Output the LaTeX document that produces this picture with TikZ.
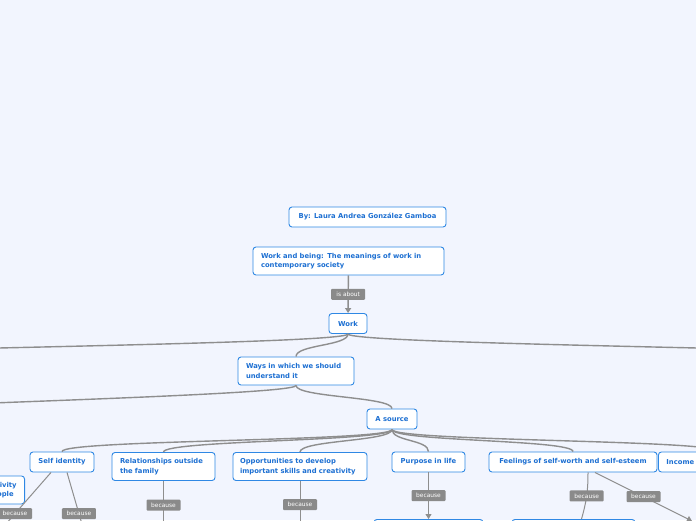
\documentclass[tikz,border=0pt]{standalone}
\usepackage{fontspec}
\usepackage{tikz}
\usetikzlibrary{arrows.meta}
\newfontfamily\mapfont{DejaVu Sans}

\definecolor{bgcolor}{HTML}{F2F5FE}
\definecolor{boxblue}{HTML}{2F88E4}
\definecolor{textblue}{HTML}{1C6FD2}
\definecolor{linegray}{HTML}{8E8E8E}
\definecolor{taggray}{HTML}{8A8A8A}

\begin{document}
\begin{tikzpicture}[
				x=1pt, y=-1pt,
				topic/.style={
					draw=boxblue,
					fill=white,
					rounded corners=3pt,
					line width=0.9pt,
					text=textblue,
					font=\mapfont\bfseries\fontsize{6.8}{9.4}\selectfont,
					inner xsep=8pt,
					inner ysep=0pt,
					minimum height=20pt
				},
				twoline/.style={
					topic,
					align=left,
					minimum height=28pt
				},
				linktag/.style={
					fill=taggray,
					text=white,
					rounded corners=1pt,
					font=\mapfont\fontsize{5.9}{7}\selectfont,
					inner xsep=3pt,
					inner ysep=0pt,
					minimum height=11pt,
					minimum width=34pt
				},
				branch/.style={draw=linegray, line width=1.4pt},
				>={Triangle[length=5pt,width=6pt]}
				]
				
				\useasboundingbox (0,0) rectangle (696,520);
				\fill[bgcolor] (0,0) rectangle (696,520);
				\clip (0,0) rectangle (696,520);
				
				% title and root
				\node[topic, minimum width=157pt] (author) at (367.5,217)
				{By: Laura Andrea González Gamboa};
				
				\node[twoline, text width=175pt] (being) at (348.5,261)
				{Work and being: The meanings of work in\\contemporary society};
				
				\node[topic, minimum width=38pt] (work) at (348,323.5) {Work};
				
				\node[twoline, text width=100pt] (ways) at (296,371)
				{Ways in which we should\\understand it};
				
				\node[topic, minimum width=50pt] (source) at (392,419) {A source};
				
				% second level
				\node[topic, minimum width=64pt] (selfid) at (62,462) {Self identity};
				
				\node[twoline, text width=87pt] (family) at (163.5,466.5)
				{Relationships outside\\the family};
				
				\node[twoline, text width=120pt, inner xsep=7pt] (skills) at (300,466.5)
				{Opportunities to develop\\important skills and creativity};
				
				\node[topic, minimum width=73pt] (purpose) at (428.5,462) {Purpose in life};
				
				\node[topic, minimum width=168pt] (worth) at (573,462)
				{Feelings of self-worth and self-esteem};
				
				\node[topic, text width=104pt, align=left, anchor=west] (income) at (658,462)
				{Income};
				
				\node[twoline, anchor=east] (activity) at (25,490)
				{Collective activity\\and other people};
				
				% nodes below the edge
				\node[topic, minimum width=109pt, minimum height=28pt, anchor=north] (purposebox) at (428.5,519) {};
				\node[topic, minimum width=123pt, minimum height=28pt, anchor=north] (worthbox) at (573.5,519) {};
				
				% ends outside the picture
				\coordinate (workleft) at (-348,362);
				\coordinate (workright) at (1044,362);
				\coordinate (waysleft) at (-296,420);
				\coordinate (selfleft) at (-8,540);
				\coordinate (selfright) at (86.6,540);
				\coordinate (familyend) at (163.5,540);
				\coordinate (skillsend) at (300,540);
				\coordinate (worthend) at (692,521);
				
				\draw[branch, ->] (being) -- node[linktag] {is about} (work);
				
				\draw[branch] (work.south) .. controls +(0,12) and +(0,-12) .. (workleft);
				\draw[branch] (work.south) .. controls +(0,12) and +(0,-12) .. (workright);
				\draw[branch] (work.south) .. controls +(0,12) and +(0,-12) .. (ways.north);
				
				\draw[branch] (ways.south) .. controls +(0,12) and +(0,-12) .. (waysleft);
				\draw[branch] (ways.south) .. controls +(0,12) and +(0,-12) .. (source.north);
				
				\foreach \kid in {selfid, family, skills, purpose, worth, income}
				\draw[branch] (source.south) .. controls +(0,12) and +(0,-12) .. (\kid.north);
				
				% links
				\draw[branch, line width=1pt] ([xshift=-11pt]selfid.south) -- node[linktag, pos=0.61] {because} (selfleft);
				\draw[branch, line width=1pt] ([xshift=5pt]selfid.south) -- node[linktag, pos=0.61] {because} (selfright);
				\draw[branch, line width=1pt] (family.south) -- node[linktag, pos=0.41] {because} (familyend);
				\draw[branch, line width=1pt] (skills.south) -- node[linktag, pos=0.4] {because} (skillsend);
				\draw[branch, line width=1pt, ->] (purpose.south) -- node[linktag, pos=0.5] {because} (purposebox.north);
				\draw[branch, line width=1pt] ([xshift=15pt]worth.south) to[bend left=8] node[linktag, pos=0.5] {because} ([xshift=8pt]worthbox.north);
				\draw[branch, line width=1pt, ->] ([xshift=22pt]worth.south) -- node[linktag, pos=0.5] {because} (worthend);
				
			\end{tikzpicture}
\end{document}
